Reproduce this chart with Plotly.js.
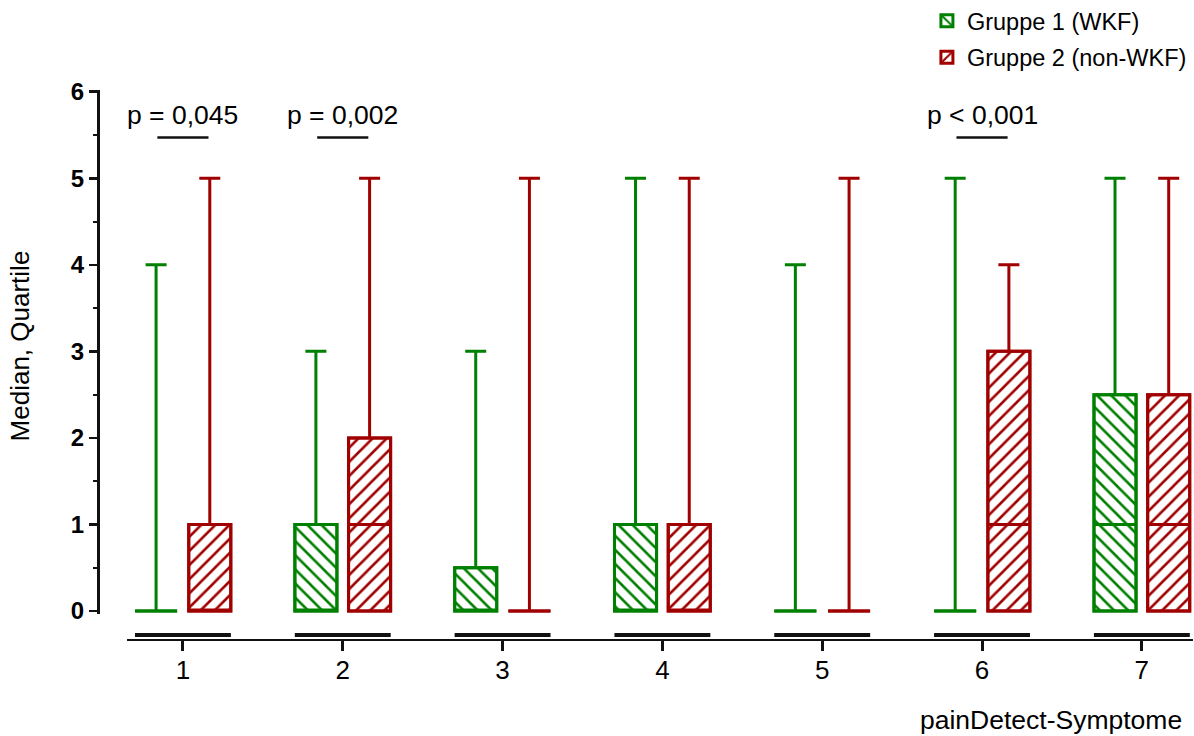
<!DOCTYPE html>
<html>
<head>
<meta charset="utf-8">
<script src="https://cdn.plot.ly/plotly-3.0.1.min.js"></script>
<style>html,body{margin:0;padding:0;background:#fff;}#chart{width:1194px;height:736px;}</style>
</head>
<body>
<div id="chart"></div>
<script>
// ---- data ----
var categories = [1, 2, 3, 4, 5, 6, 7];
var categoryLabels = ['1', '2', '3', '4', '5', '6', '7'];
var seriesNames = ['Gruppe 1 (WKF)', 'Gruppe 2 (non-WKF)'];

var g1Min = [0, 0, 0, 0, 0, 0, 0];
var g1Q1  = [0, 0, 0, 0, 0, 0, 0];
var g1Med = [0, 0, 0, 0, 0, 0, 1];
var g1Q3  = [0, 1, 0.5, 1, 0, 0, 2.5];
var g1Max = [4, 3, 3, 5, 4, 5, 5];

var g2Min = [0, 0, 0, 0, 0, 0, 0];
var g2Q1  = [0, 0, 0, 0, 0, 0, 0];
var g2Med = [0, 1, 0, 0, 0, 1, 1];
var g2Q3  = [1, 2, 0, 1, 0, 3, 2.5];
var g2Max = [5, 5, 5, 5, 5, 4, 5];

var pCategories = [1, 2, 6];
var pLabels = ['p = 0,045', 'p = 0,002', 'p < 0,001'];
var pTextY = 5.73;
var pLineY = 5.47;

// ---- styles ----
var green = '#008000';
var red = '#a00000';
var FONT = 'Liberation Sans, Arial, sans-serif';
var GAP = 0.328, GROUPGAP = 0.217;

function diff(a, b) { return a.map(function (v, i) { return v - b[i]; }); }

function hatchBar(name, q1, q3, color, shape, grp) {
  return {
    type: 'bar', name: name, legendgroup: grp, x: categories, base: q1, y: diff(q3, q1),
    marker: {
      color: 'white',
      line: {color: color, width: 3},
      pattern: {shape: shape, fgcolor: color, bgcolor: 'white', size: 10, solidity: 0.26}
    },
    hoverinfo: 'skip', showlegend: true
  };
}
function boxTrace(name, mn, q1, med, q3, mx, color, grp) {
  return {
    type: 'box', name: name, legendgroup: grp, x: categories,
    lowerfence: mn, q1: q1, median: med, q3: q3, upperfence: mx,
    line: {color: color, width: 3}, fillcolor: 'rgba(0,0,0,0)',
    whiskerwidth: 0.5, boxpoints: false, showlegend: false
  };
}

var data = [
  hatchBar(seriesNames[0], g1Q1, g1Q3, green, '\\', 'g1'),
  hatchBar(seriesNames[1], g2Q1, g2Q3, red, '/', 'g2'),
  boxTrace(seriesNames[0], g1Min, g1Q1, g1Med, g1Q3, g1Max, green, 'g1'),
  boxTrace(seriesNames[1], g2Min, g2Q1, g2Med, g2Q3, g2Max, red, 'g2')
];

var shapes = [];
categories.forEach(function (c) {
  shapes.push({type: 'line', xref: 'x', yref: 'paper', ysizemode: 'pixel', yanchor: 0,
    x0: c - 0.3, x1: c + 0.3, y0: 4, y1: 4, line: {color: '#111', width: 4}});
});
pCategories.forEach(function (c) {
  shapes.push({type: 'line', xref: 'x', yref: 'y', x0: c - 0.16, x1: c + 0.16,
    y0: pLineY, y1: pLineY, line: {color: '#111', width: 2.5}});
});

var annotations = pCategories.map(function (c, i) {
  return {xref: 'x', yref: 'y', x: c, y: pTextY, text: pLabels[i], showarrow: false,
    font: {family: FONT, size: 26.5, color: '#000'}};
});
annotations.push({xref: 'paper', yref: 'paper', x: 0.992, y: -0.148, xanchor: 'right', yanchor: 'middle',
  text: 'painDetect-Symptome', showarrow: false, font: {family: FONT, size: 26.5, color: '#000'}});
annotations.push({xref: 'paper', yref: 'paper', x: -0.0712, y: 0.533, xanchor: 'center', yanchor: 'middle',
  textangle: -90, text: 'Median, Quartile', showarrow: false, font: {family: FONT, size: 26, color: '#000'}});

var layout = {
  width: 1194, height: 736,
  margin: {l: 98, r: 1, t: 90, b: 97, autoexpand: false},
  paper_bgcolor: 'white', plot_bgcolor: 'white',
  font: {family: FONT, color: '#000'},
  barmode: 'group', bargap: GAP, bargroupgap: GROUPGAP,
  boxmode: 'group', boxgap: GAP, boxgroupgap: GROUPGAP,
  xaxis: {
    domain: [0.02648, 1], range: [0.65, 7.32], anchor: 'free', position: 0,
    tickvals: categories, ticktext: categoryLabels,
    showline: true, linecolor: '#111', linewidth: 1.5,
    ticks: 'outside', ticklen: 10, tickwidth: 3, tickcolor: '#111',
    tickfont: {family: FONT, size: 26, color: '#000'}, ticklabelstandoff: -3,
    showgrid: false, zeroline: false
  },
  yaxis: {
    domain: [0.0455, 1], range: [-0.035, 6.02], anchor: 'free', position: 0,
    tickvals: [0, 1, 2, 3, 4, 5, 6],
    showline: true, linecolor: '#111', linewidth: 2.5,
    ticks: 'outside', ticklen: 8, tickwidth: 2.5, tickcolor: '#111',
    tickfont: {family: FONT, size: 24, color: '#000', weight: 'bold'},
    minor: {dtick: 0.5, ticks: 'outside', ticklen: 4, tickwidth: 2, tickcolor: '#111'},
    showgrid: false, zeroline: false
  },
  legend: {x: 0.757, y: 1.166, xanchor: 'left', yanchor: 'top', bgcolor: 'rgba(0,0,0,0)',
    traceorder: 'grouped', tracegroupgap: 3,
    font: {family: FONT, size: 23.5, color: '#000'}},
  shapes: shapes,
  annotations: annotations,
  showlegend: true
};

Plotly.newPlot('chart', data, layout, {displayModeBar: false, staticPlot: true});
</script>
</body>
</html>
